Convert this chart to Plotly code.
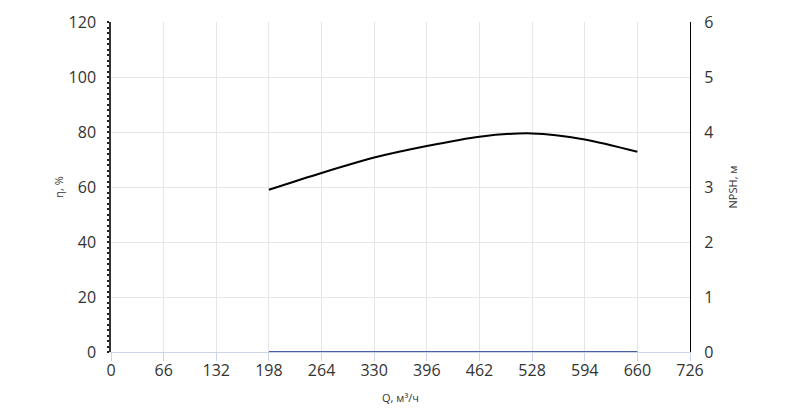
import plotly.graph_objects as go

q_values = [198, 264, 330, 396, 462, 528, 594, 660]
eta_values = [59.0, 65.1, 70.7, 74.9, 78.3, 79.5, 77.3, 72.8]
npsh_values = [0, 0, 0, 0, 0, 0, 0, 0]
x_ticks = [0, 66, 132, 198, 264, 330, 396, 462, 528, 594, 660, 726]

FONT = "Open Sans"
LABEL_COLOR = "#333333"

fig = go.Figure()
fig.add_trace(go.Scatter(
    x=q_values, y=eta_values, mode="lines",
    line=dict(color="#000000", width=2, shape="spline", smoothing=0.8),
    yaxis="y", showlegend=False, hoverinfo="skip"))
fig.add_trace(go.Scatter(
    x=q_values, y=npsh_values, mode="lines",
    line=dict(color="#4a5f9e", width=2),
    yaxis="y2", showlegend=False, hoverinfo="skip", cliponaxis=False))

# page body has an 8px default margin, so margins are offset accordingly
fig.update_layout(
    width=800, height=408,
    margin=dict(l=103, r=118, t=14, b=64),
    paper_bgcolor="white", plot_bgcolor="white",
    font=dict(family=FONT, color=LABEL_COLOR),
    xaxis=dict(
        range=[0, 726], tickvals=x_ticks, ticktext=[str(v) for v in x_ticks],
        showgrid=True, gridcolor="#e6e6e6", gridwidth=1,
        showline=True, linecolor="#ccd6eb", linewidth=1,
        ticks="outside", ticklen=8, tickcolor="#ccd6eb", tickwidth=1,
        ticklabelstandoff=-4,
        tickfont=dict(size=16, color=LABEL_COLOR, family=FONT),
        title=dict(text="Q, м³/ч", font=dict(size=11, color=LABEL_COLOR, family=FONT), standoff=14),
        zeroline=False, fixedrange=True, automargin=False),
    yaxis=dict(
        range=[0, 120], dtick=20,
        showgrid=True, gridcolor="#e6e6e6", gridwidth=1,
        showline=True, linecolor="#333333", linewidth=1.5,
        ticks="outside", ticklen=2, tickcolor="#222222", tickwidth=2,
        minor=dict(dtick=2, ticks="outside", ticklen=2, tickcolor="#222222", tickwidth=2, showgrid=False),
        tickfont=dict(size=16, color=LABEL_COLOR, family=FONT),
        ticklabelstandoff=8,
        title=dict(text="η, %", font=dict(size=11, color=LABEL_COLOR, family=FONT), standoff=3),
        zeroline=False, fixedrange=True, automargin=False),
    yaxis2=dict(
        range=[0, 6], dtick=1, overlaying="y", side="right",
        showgrid=False, showline=True, linecolor="#000000", linewidth=1,
        ticks="", tickfont=dict(size=16, color=LABEL_COLOR, family=FONT),
        ticklabelstandoff=10,
        title=dict(text="NPSH, м", font=dict(size=11, color=LABEL_COLOR, family=FONT), standoff=16),
        zeroline=False, fixedrange=True, automargin=False),
)

fig.write_html("out.html")
